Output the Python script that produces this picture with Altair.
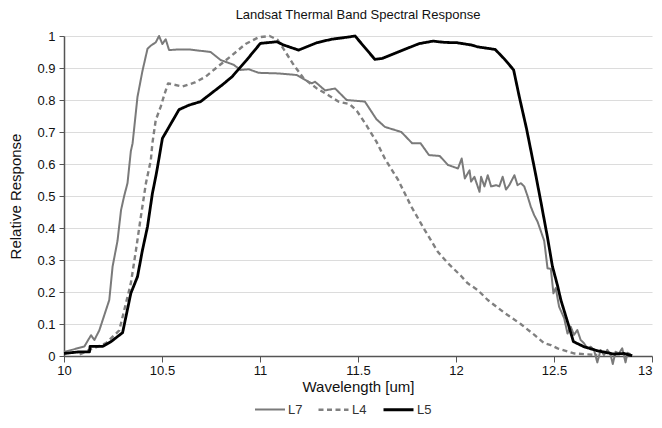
import altair as alt
import pandas as pd

# L7 (gray thin solid)
l7_x = [10.000, 10.045, 10.104, 10.138, 10.155, 10.180, 10.231, 10.248, 10.273, 10.291,
        10.307, 10.324, 10.341, 10.350, 10.375, 10.400, 10.426, 10.443, 10.468, 10.485,
        10.502, 10.519, 10.536, 10.587, 10.638, 10.748, 10.799, 10.866, 10.900, 10.943,
        10.993, 11.095, 11.188, 11.247, 11.264, 11.281, 11.332, 11.383, 11.442, 11.535,
        11.594, 11.637, 11.721, 11.776, 11.819, 11.862, 11.917, 11.959, 12.010, 12.029,
        12.045, 12.069, 12.077, 12.094, 12.120, 12.128, 12.145, 12.162, 12.179, 12.204,
        12.221, 12.238, 12.255, 12.272, 12.298, 12.314, 12.331, 12.348, 12.365, 12.382,
        12.399, 12.416, 12.433, 12.450, 12.467, 12.484, 12.497, 12.509, 12.526, 12.552,
        12.569, 12.585, 12.602, 12.619, 12.636, 12.653, 12.670, 12.687, 12.704, 12.721,
        12.738, 12.755, 12.772, 12.789, 12.800, 12.814, 12.831, 12.848, 12.865, 12.875,
        12.890]
l7_y = [0.013, 0.020, 0.030, 0.065, 0.050, 0.080, 0.175, 0.280, 0.360, 0.456,
        0.500, 0.540, 0.640, 0.665, 0.810, 0.890, 0.960, 0.970, 0.980, 1.000,
        0.975, 0.990, 0.956, 0.958, 0.958, 0.950, 0.925, 0.910, 0.894, 0.896,
        0.885, 0.883, 0.878, 0.857, 0.852, 0.857, 0.830, 0.836, 0.800, 0.795,
        0.740, 0.716, 0.700, 0.665, 0.665, 0.628, 0.625, 0.597, 0.586, 0.617,
        0.555, 0.580, 0.545, 0.560, 0.513, 0.560, 0.530, 0.565, 0.530, 0.534,
        0.530, 0.560, 0.520, 0.534, 0.565, 0.534, 0.540, 0.530, 0.500, 0.466,
        0.440, 0.420, 0.390, 0.360, 0.274, 0.272, 0.196, 0.212, 0.154, 0.118,
        0.070, 0.092, 0.066, 0.081, 0.050, 0.040, 0.024, 0.029, 0.019, -0.020,
        0.019, 0.003, 0.019, 0.003, -0.025, 0.013, 0.008, 0.024, -0.020, 0.010,
        0.006]

# L4 (gray dashed)
l4_x = [10.080, 10.130, 10.214, 10.282, 10.316, 10.341, 10.367, 10.392, 10.418, 10.443,
        10.451, 10.468, 10.494, 10.511, 10.531, 10.604, 10.668, 10.723, 10.780, 10.854,
        10.926, 10.993, 11.049, 11.090, 11.124, 11.166, 11.222, 11.288, 11.349, 11.400,
        11.458, 11.494, 11.544, 11.594, 11.637, 11.705, 11.772, 11.840, 11.908, 11.959,
        12.026, 12.060, 12.111, 12.162, 12.247, 12.330, 12.400, 12.450, 12.484, 12.518,
        12.602, 12.670, 12.721]
l4_y = [0.005, 0.019, 0.040, 0.080, 0.165, 0.227, 0.330, 0.435, 0.540, 0.612,
        0.665, 0.737, 0.780, 0.815, 0.852, 0.842, 0.855, 0.873, 0.902, 0.938,
        0.975, 0.996, 1.000, 0.988, 0.956, 0.915, 0.868, 0.837, 0.815, 0.795,
        0.787, 0.766, 0.720, 0.670, 0.617, 0.550, 0.467, 0.394, 0.325, 0.290,
        0.250, 0.227, 0.206, 0.175, 0.135, 0.100, 0.066, 0.040, 0.034, 0.024,
        0.008, 0.005, 0.003]

# L5 (black thick solid)
l5_x = [10.000, 10.079, 10.130, 10.133, 10.197, 10.240, 10.299, 10.341, 10.375, 10.400,
        10.426, 10.451, 10.468, 10.477, 10.502, 10.536, 10.587, 10.638, 10.697, 10.756,
        10.807, 10.858, 10.932, 11.002, 11.086, 11.120, 11.197, 11.290, 11.366, 11.442,
        11.485, 11.586, 11.624, 11.713, 11.811, 11.883, 11.942, 12.005, 12.077, 12.111,
        12.200, 12.247, 12.294, 12.323, 12.360, 12.404, 12.433, 12.467, 12.492, 12.518,
        12.535, 12.569, 12.599, 12.653, 12.721, 12.806, 12.857, 12.899]
l5_y = [0.008, 0.013, 0.013, 0.030, 0.030, 0.045, 0.073, 0.196, 0.248, 0.330,
        0.404, 0.508, 0.560, 0.590, 0.680, 0.716, 0.770, 0.784, 0.795, 0.823,
        0.847, 0.873, 0.925, 0.977, 0.982, 0.972, 0.956, 0.979, 0.990, 0.996,
        1.000, 0.927, 0.930, 0.952, 0.976, 0.984, 0.980, 0.979, 0.972, 0.966,
        0.958, 0.928, 0.894, 0.810, 0.710, 0.575, 0.482, 0.370, 0.280, 0.220,
        0.175, 0.107, 0.045, 0.029, 0.0165, 0.006, 0.008, 0.001]

series_names = ["L7", "L4", "L5"]
series_colors = ["#7a7a7a", "#808080", "#000000"]
series_dash = [[1, 0], [5, 3.5], [1, 0]]
series_width = [2, 2.8, 2.6]

x_ticks = [10, 10.5, 11, 11.5, 12, 12.5, 13]
y_ticks = [0, 0.1, 0.2, 0.3, 0.4, 0.5, 0.6, 0.7, 0.8, 0.9, 1]

rows = []
for name, xs, ys in [("L7", l7_x, l7_y), ("L4", l4_x, l4_y), ("L5", l5_x, l5_y)]:
    for xv, yv in zip(xs, ys):
        rows.append({"series": name, "wl": xv, "resp": yv})
df = pd.DataFrame(rows)

FONT = "Liberation Sans"

chart = alt.Chart(df).mark_line(strokeJoin="round").encode(
    x=alt.X("wl:Q", scale=alt.Scale(domain=[10, 13], nice=False, zero=False),
            axis=alt.Axis(title="Wavelength [um]", values=x_ticks, format="~g",
                          grid=False, tickSize=6, labelPadding=2,
                          labelAlign={"expr": "datum.value == 13 ? 'right' : 'center'"},
                          titlePadding=2)),
    y=alt.Y("resp:Q", scale=alt.Scale(domain=[0, 1], nice=False, zero=False),
            axis=alt.Axis(title="Relative Response", values=y_ticks, format="~g",
                          grid=True, gridColor="#dcdcdc", gridWidth=1.2,
                          tickSize=5, labelPadding=4, titleX=-41, titleY=160)),
    color=alt.Color("series:N",
                    scale=alt.Scale(domain=series_names, range=series_colors),
                    legend=alt.Legend(title=None, orient="none", direction="horizontal",
                                      legendX=190, legendY=357, symbolType="stroke",
                                      symbolSize=900, labelFontSize=13, labelFont=FONT,
                                      labelColor="#333333", columnPadding=10,
                                      labelOffset=2)),
    strokeDash=alt.StrokeDash("series:N",
                              scale=alt.Scale(domain=series_names, range=series_dash)),
    strokeWidth=alt.StrokeWidth("series:N",
                                scale=alt.Scale(domain=series_names, range=series_width)),
    order=alt.Order("wl:Q"),
).properties(
    width=588,
    height=320,
    title=alt.TitleParams("Landsat Thermal Band Spectral Response", fontSize=13,
                          font=FONT, fontWeight="normal", color="#111111",
                          anchor="middle", offset=8),
    autosize=alt.AutoSizeParams(type="none"),
    padding={"left": 56, "top": 28, "right": 2, "bottom": 64},
).configure_axis(
    labelFont=FONT, titleFont=FONT, labelFontSize=13, titleFontSize=15,
    titleFontWeight="normal", labelColor="#111111", titleColor="#111111",
    domainColor="#555555", tickColor="#555555", domainWidth=1.5,
).configure_view(stroke=None)

chart.save("out.html", embed_options={"renderer": "svg", "actions": False})
